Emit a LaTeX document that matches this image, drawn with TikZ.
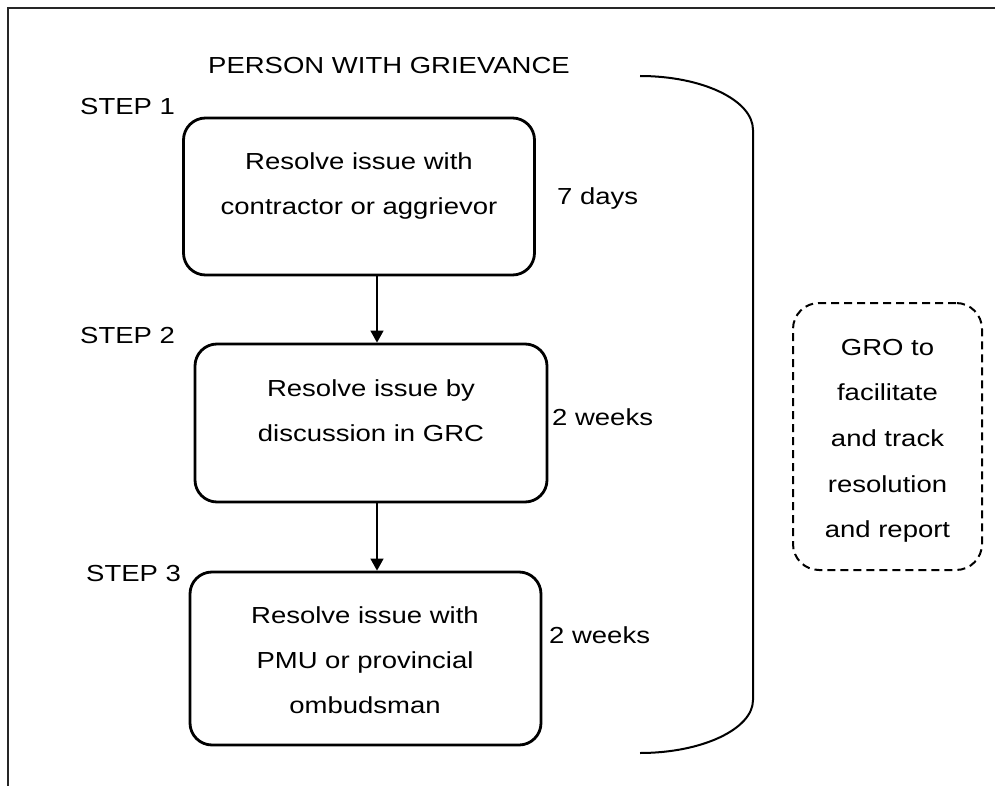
\documentclass[tikz,border=0pt]{standalone}
\usepackage{fontspec}
\setmainfont[FakeStretch=1.185]{Liberation Sans}
\usetikzlibrary{arrows.meta}
\tikzset{
  txt/.style={inner sep=0pt, font=\fontsize{23.2}{45}\selectfont},
  stepbox/.style={draw, line width=2.8pt, rounded corners=22pt, inner sep=0pt},
  grobox/.style={draw, line width=2pt, dash pattern=on 8pt off 5pt, rounded corners=26pt, inner sep=0pt},
  arr/.style={line width=1.4pt, -{Triangle[length=12pt,width=13pt]}},
  brk/.style={line width=2pt},
  frame/.style={line width=1.3pt, black!85}
}
\begin{document}
\begin{tikzpicture}[x=1pt,y=-1pt]
\useasboundingbox (0,0) rectangle (995,786);
% frame
\draw[frame] (8,786) -- (8,8) -- (995,8);
% title and steps
\node[txt, anchor=base west] (title) at (208,74) {PERSON WITH GRIEVANCE};
\node[txt, anchor=base west] (s1) at (80,115) {STEP 1};
\node[txt, anchor=base west] (s2) at (80,343) {STEP 2};
\node[txt, anchor=base west] (s3) at (86,581) {STEP 3};
% boxes
\node[stepbox, minimum width=351pt, minimum height=157pt] (b1) at (359,196.5) {};
\node[stepbox, minimum width=352pt, minimum height=158pt] (b2) at (371,423) {};
\node[stepbox, minimum width=351pt, minimum height=173pt] (b3) at (365.5,658.5) {};
% box texts
\node[txt, anchor=base] (b1a) at (359,170) {Resolve issue with};
\node[txt, anchor=base] (b1b) at (359,215) {contractor or aggrievor};
\node[txt, anchor=base] (b2a) at (371,396) {Resolve issue by};
\node[txt, anchor=base] (b2b) at (371,441) {discussion in GRC};
\node[txt, anchor=base] (b3a) at (365,623) {Resolve issue with};
\node[txt, anchor=base] (b3b) at (365,668) {PMU or provincial};
\node[txt, anchor=base] (b3c) at (365,713) {ombudsman};
% durations
\node[txt, anchor=base west] (d1) at (557,205) {7 days};
\node[txt, anchor=base west] (d2) at (552,425) {2 weeks};
\node[txt, anchor=base west] (d3) at (549,643) {2 weeks};
% arrows
\coordinate (ax) at (377,0);
\draw[arr] (b1.south -| ax) -- (b2.north -| ax);
\draw[arr] (b2.south -| ax) -- (b3.north -| ax);
% bracket
\draw[brk] (640,76) .. controls (702,76) and (753,100) .. (753,130)
  -- (753,700) .. controls (753,729) and (702,753) .. (640,753);
% GRO box
\node[grobox, minimum width=189pt, minimum height=267pt] (gro) at (887.5,436.5) {};
\node[txt, anchor=base] (g1) at (887.5,355) {GRO to};
\node[txt, anchor=base] (g2) at (887.5,400) {facilitate};
\node[txt, anchor=base] (g3) at (887.5,446) {and track};
\node[txt, anchor=base] (g4) at (887.5,492) {resolution};
\node[txt, anchor=base] (g5) at (887.5,537) {and report};
\end{tikzpicture}
\end{document}
